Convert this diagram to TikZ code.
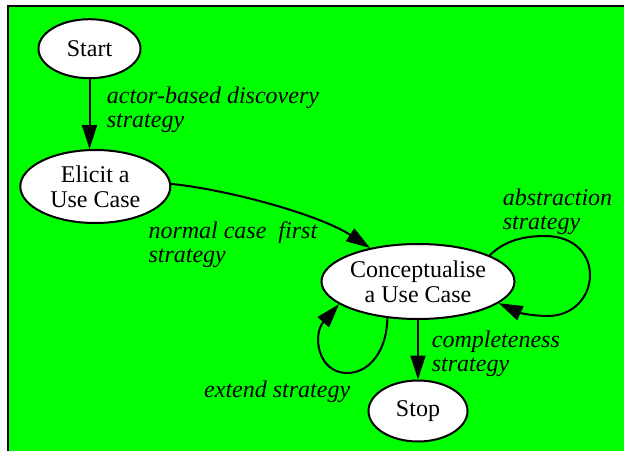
\documentclass[tikz,border=0pt]{standalone}
\usepackage{fontspec}
\setmainfont{Liberation Serif}
\newfontfamily\timesf{Liberation Serif}
\usetikzlibrary{shapes.geometric,arrows.meta}
\definecolor{bggreen}{RGB}{0,255,0}
\begin{document}
\begin{tikzpicture}[x=1pt,y=-1pt,
  stbox/.style={ellipse,draw=black,fill=white,line width=2pt,inner sep=0pt,align=center,font=\timesf\fontsize{24}{25}\selectfont},
  lbl/.style={anchor=base west,align=left,inner sep=0pt,font=\timesf\itshape\fontsize{24}{24}\selectfont},
  conn/.style={line width=2pt,-{Triangle[length=24pt,width=15pt]}}]
\useasboundingbox (0,0) rectangle (624,450);
\fill[white] (0,0) rectangle (624,450);
\begin{scope}
\clip (0,0) rectangle (624,450);
\fill[bggreen] (8,6) rectangle (640,470);
\draw[line width=2pt] (8,470) -- (8,6) -- (640,6);
\end{scope}

\node[stbox,minimum width=102pt,minimum height=59pt] (start) at (89.5,48.7) {Start};
\node[stbox,minimum width=150pt,minimum height=73pt] (elicit) at (95.3,186.5) {Elicit a\\Use Case};
\node[stbox,minimum width=193pt,minimum height=75pt] (concept) at (418,281.5) {Conceptualise\\a Use Case};
\node[stbox,minimum width=99pt,minimum height=61pt] (stop) at (418,411) {Stop};

\draw[conn] (start.south) -- (start.south |- elicit.north);
\draw[conn] (elicit.2) .. controls (230,190) and (320,215) .. (concept.145);
\draw[conn] (concept) -- (stop);
\draw[conn] (concept.20) .. controls (505,240) and (525,236) .. (545,236)
  .. controls (575,236) and (590,255) .. (590,275)
  .. controls (590,298) and (572,316) .. (548,316)
  .. controls (534,316) and (520,313) .. (concept.-15);
\draw[conn] (concept.-130) .. controls (387,350) and (370,373) .. (347,373)
  .. controls (318,373) and (312,335) .. (concept.-164);

\node[lbl] (l1) at (106.7,127.3) {actor-based discovery\\strategy};
\node[lbl] (l2) at (148.3,262.3) {normal case\ \ first\\strategy};
\node[lbl] (l3) at (502.7,229) {abstraction\\strategy};
\node[lbl] (l4) at (431.7,371) {completeness\\strategy};
\node[lbl] (l5) at (204,397.7) {extend strategy};
\end{tikzpicture}
\end{document}
